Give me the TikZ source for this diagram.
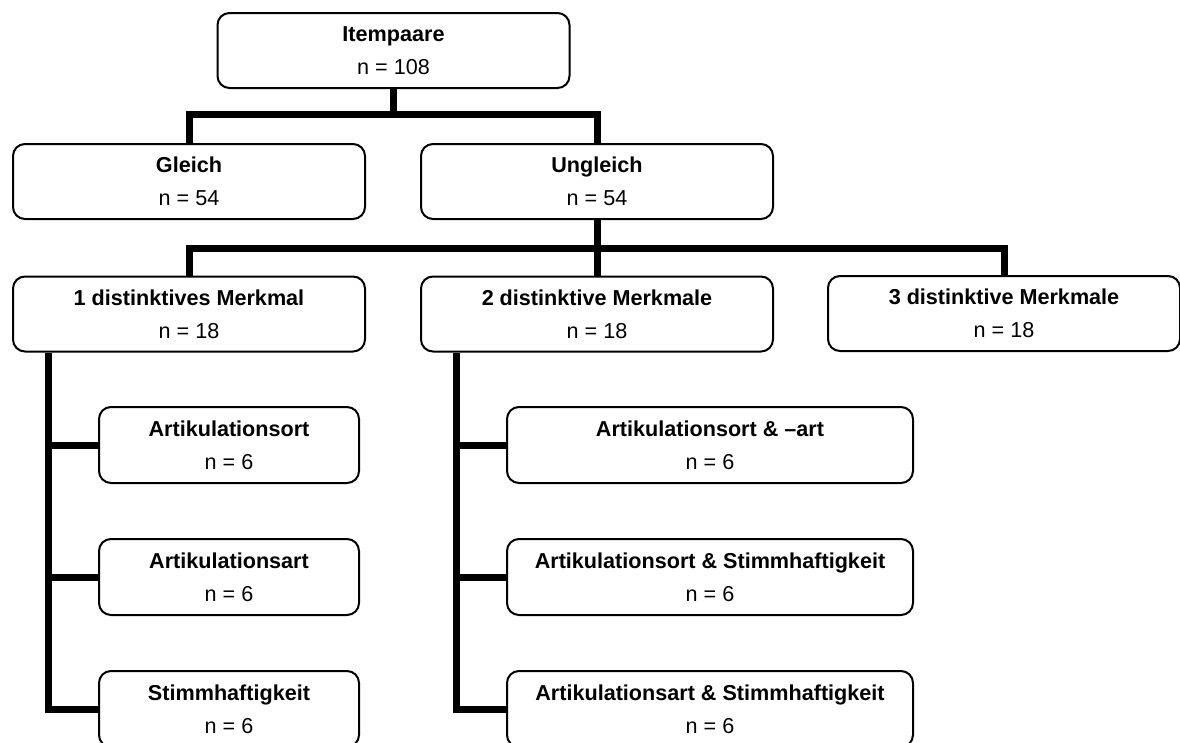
\documentclass[tikz,border=0pt]{standalone}
\usepackage{fontspec}
\setmainfont{Liberation Sans}

\begin{document}
\begin{tikzpicture}[x=1pt,y=-1pt,
group/.style={draw=black,line width=2pt,rounded corners=12pt,align=center,
minimum width=352pt,minimum height=75pt,inner sep=0pt,
font=\fontsize{21.6}{33}\selectfont},
leftsub/.style={group,minimum width=260pt,minimum height=76pt},
midsub/.style={group,minimum width=406pt,minimum height=76pt},
link/.style={draw=black,line width=7pt}]
\useasboundingbox (0,0) rectangle (1180,742);
\node[group] (items) at (393.5,50.5) {\textbf{Itempaare}\\n = 108};
\node[group] (equal) at (189,181.5) {\textbf{Gleich}\\n = 54};
\node[group] (unequal) at (597,181.5) {\textbf{Ungleich}\\n = 54};
\node[group] (one) at (189,314) {\textbf{1 distinktives Merkmal}\\n = 18};
\node[group] (two) at (597,314) {\textbf{2 distinktive Merkmale}\\n = 18};
\node[group] (three) at (1004,313.5) {\textbf{3 distinktive Merkmale}\\n = 18};
\node[leftsub] (ort) at (229,445) {\textbf{Artikulationsort}\\n = 6};
\node[leftsub] (art) at (229,577) {\textbf{Artikulationsart}\\n = 6};
\node[leftsub] (stimm) at (229,709) {\textbf{Stimmhaftigkeit}\\n = 6};
\node[midsub] (ortart) at (710,445) {\textbf{Artikulationsort \& --art}\\n = 6};
\node[midsub] (ortstimm) at (710,577) {\textbf{Artikulationsort \& Stimmhaftigkeit}\\n = 6};
\node[midsub] (artstimm) at (710,709) {\textbf{Artikulationsart \& Stimmhaftigkeit}\\n = 6};
\foreach \b in {equal,unequal}
\draw[link] (items.south) -- ++(0,25) -| (\b.north);
\foreach \b in {one,two,three}
\draw[link] (unequal.south) -- ++(0,28) -| (\b.north);
\foreach \a/\b in {one/ort,one/art,one/stimm,two/ortart,two/ortstimm,two/artstimm}
\draw[link] ([xshift=36pt]\a.south west) |- (\b.west);
\end{tikzpicture}
\end{document}
